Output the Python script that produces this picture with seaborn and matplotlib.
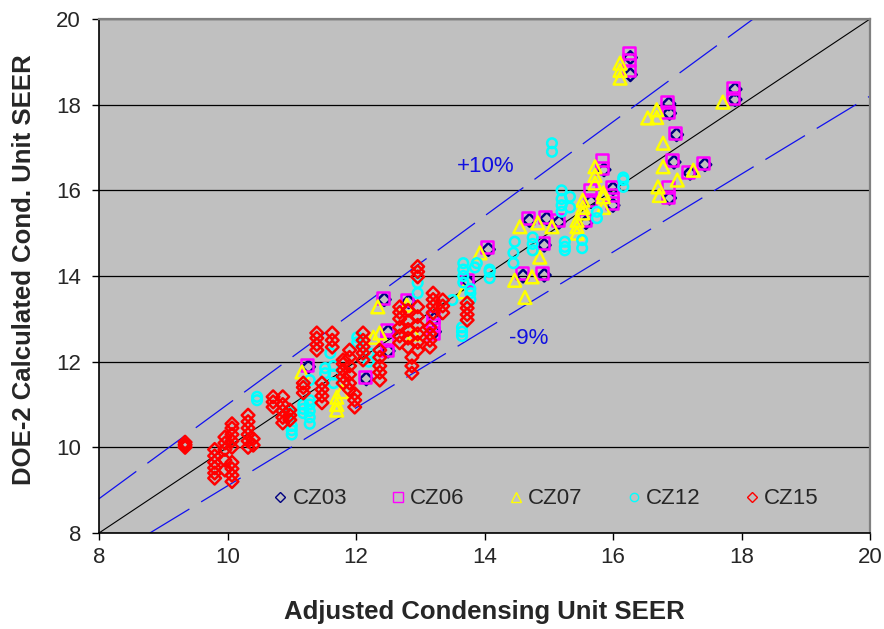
import matplotlib
matplotlib.use("Agg")
import matplotlib.pyplot as plt
from matplotlib.lines import Line2D
import pandas as pd
import seaborn as sns

# ---- data -------------------------------------------------------------
zones = ["CZ03", "CZ06", "CZ07", "CZ12", "CZ15"]

cz03_x = [11.26, 12.16, 12.44, 12.50, 12.50, 12.82, 13.22, 13.22, 13.75,
          14.06, 14.60, 14.70, 14.93, 14.93, 14.97, 15.16, 15.58, 15.66,
          15.86, 16.00, 16.00, 16.27, 16.27, 16.87, 16.88, 16.88, 16.95,
          16.99, 17.20, 17.43, 17.90, 17.90]
cz03_y = [11.88, 11.60, 13.45, 12.25, 12.70, 13.40, 12.70, 13.00, 13.86,
          14.62, 14.00, 15.30, 14.02, 14.72, 15.34, 15.26, 15.25, 15.74,
          16.48, 15.65, 16.04, 18.70, 19.10, 18.02, 17.80, 15.82, 16.66,
          17.30, 16.40, 16.60, 18.12, 18.36]

cz06_x = [11.24, 12.14, 12.42, 12.48, 12.48, 12.48, 12.79, 13.20, 13.20,
          13.20, 13.73, 14.04, 14.58, 14.68, 14.90, 14.91, 14.94, 15.14,
          15.56, 15.64, 15.64, 15.83, 15.83, 15.98, 15.98, 15.98, 16.25,
          16.25, 16.25, 16.84, 16.85, 16.86, 16.86, 16.92, 16.96, 17.17,
          17.40, 17.87, 17.87]
cz06_y = [11.92, 11.64, 13.49, 12.27, 12.50, 12.74, 13.44, 12.67, 12.85,
          13.04, 13.90, 14.68, 14.07, 15.35, 14.07, 14.77, 15.38, 15.30,
          15.30, 15.78, 16.00, 16.52, 16.70, 15.70, 15.90, 16.08, 18.80,
          19.05, 19.20, 18.06, 17.83, 15.85, 16.08, 16.70, 17.34, 16.43,
          16.64, 18.16, 18.39]

cz07_x = [11.16, 11.70, 11.70, 11.70, 11.78, 12.27, 12.34, 12.37, 12.79,
          12.90, 13.67, 13.93, 14.47, 14.55, 14.63, 14.74, 14.83, 14.86,
          15.05, 15.44, 15.44, 15.44, 15.53, 15.53, 15.53, 15.72, 15.72,
          15.72, 15.85, 15.85, 15.85, 16.11, 16.11, 16.11, 16.54, 16.68,
          16.68, 16.70, 16.72, 16.78, 16.78, 17.00, 17.25, 17.71]
cz07_y = [11.76, 10.87, 11.00, 11.17, 11.30, 12.57, 13.28, 12.67, 13.32,
          12.65, 13.63, 14.54, 13.90, 15.15, 13.50, 13.98, 15.24, 14.44,
          15.15, 15.00, 15.15, 15.30, 15.47, 15.60, 15.77, 16.17, 16.35,
          16.55, 15.60, 15.85, 15.94, 18.62, 18.80, 18.97, 17.69, 17.70,
          17.88, 16.08, 15.88, 16.55, 17.10, 16.24, 16.47, 18.06]

cz12_x = [10.46, 10.46, 10.97, 11.00, 11.00, 11.00, 11.18, 11.18, 11.18,
          11.28, 11.28, 11.28, 11.28, 11.28, 11.28, 11.52, 11.52, 11.60,
          11.65, 11.65, 11.65, 12.02, 12.02, 12.20, 12.20, 12.96, 12.96,
          13.50, 13.65, 13.65, 13.65, 13.67, 13.67, 13.67, 13.67, 13.78,
          13.78, 13.78, 13.85, 13.88, 14.08, 14.08, 14.08, 14.45, 14.45,
          14.47, 14.75, 14.75, 14.75, 15.05, 15.05, 15.20, 15.20, 15.20,
          15.20, 15.33, 15.33, 15.25, 15.25, 15.25, 15.52, 15.52, 15.75,
          15.75, 16.16, 16.16, 16.16]
cz12_y = [11.10, 11.18, 10.80, 10.30, 10.40, 10.50, 10.80, 10.90, 11.00,
          10.55, 10.70, 10.85, 11.00, 11.10, 11.57, 11.73, 11.85, 12.20,
          11.50, 11.70, 11.90, 12.45, 12.57, 12.00, 12.20, 13.60, 13.84,
          13.44, 12.60, 12.70, 12.80, 13.85, 14.00, 14.15, 14.30, 13.45,
          13.60, 13.70, 14.20, 14.30, 13.95, 14.10, 14.15, 14.30, 14.54,
          14.80, 14.60, 14.75, 14.90, 16.90, 17.10, 15.50, 15.65, 15.80,
          16.00, 15.60, 15.85, 14.60, 14.68, 14.80, 14.65, 14.84, 15.35,
          15.50, 16.08, 16.24, 16.30]

cz15_x = [9.34, 9.34, 9.34,
          9.80, 9.80, 9.80, 9.80, 9.80, 9.80,
          9.96, 9.96, 9.96, 9.96, 9.96,
          10.07, 10.07, 10.07, 10.07, 10.07, 10.07, 10.07, 10.07, 10.07,
          10.32, 10.32, 10.32, 10.32, 10.32, 10.32,
          10.40, 10.40,
          10.71, 10.71, 10.71,
          10.86, 10.86, 10.86, 10.86, 10.86,
          10.97, 10.97, 10.97,
          11.18, 11.18, 11.18,
          11.39, 11.39, 11.39, 11.39,
          11.47, 11.47, 11.47, 11.47,
          11.63, 11.63, 11.63,
          11.80, 11.80, 11.80, 11.80, 11.80,
          11.90, 11.90, 11.90, 11.90, 11.90, 11.90,
          11.98, 11.98, 11.98,
          12.11, 12.11, 12.11, 12.11, 12.11,
          12.37, 12.37, 12.37, 12.37, 12.37,
          12.68, 12.68, 12.68, 12.68, 12.68, 12.68,
          12.81, 12.81, 12.81, 12.81, 12.81,
          12.87, 12.87, 12.87,
          12.96, 12.96, 12.96, 12.96, 12.96, 12.96, 12.96, 12.96, 12.96,
          13.15, 13.15, 13.15, 13.15,
          13.20, 13.20, 13.20, 13.20,
          13.35, 13.35, 13.35,
          13.73, 13.73, 13.73, 13.73]
cz15_y = [10.00, 10.06, 10.12,
          9.28, 9.40, 9.52, 9.65, 9.80, 9.95,
          9.47, 9.70, 9.95, 10.10, 10.24,
          9.20, 9.35, 9.50, 9.65, 10.00, 10.15, 10.30, 10.45, 10.55,
          10.00, 10.15, 10.30, 10.45, 10.60, 10.75,
          10.05, 10.20,
          10.94, 11.06, 11.18,
          10.57, 10.70, 10.85, 11.00, 11.18,
          10.64, 10.75, 10.87,
          11.27, 11.40, 11.50,
          12.27, 12.40, 12.55, 12.67,
          11.04, 11.20, 11.35, 11.50,
          12.34, 12.50, 12.67,
          11.50, 11.65, 11.80, 11.95, 12.04,
          11.34, 11.50, 11.70, 11.90, 12.10, 12.27,
          10.94, 11.10, 11.25,
          12.04, 12.20, 12.35, 12.50, 12.67,
          11.57, 11.75, 11.90, 12.10, 12.27,
          12.44, 12.60, 12.80, 13.00, 13.15, 13.28,
          12.34, 12.55, 12.75, 12.95, 13.20,
          11.73, 11.90, 12.10,
          12.27, 12.45, 12.65, 12.85, 13.05, 13.28, 13.98, 14.10, 14.22,
          12.34, 12.50, 12.65, 12.80,
          13.14, 13.30, 13.45, 13.60,
          13.14, 13.30, 13.44,
          12.97, 13.10, 13.25, 13.37]

axis_ticks = [8, 10, 12, 14, 16, 18, 20]
upper_pct = 0.10   # +10% band
lower_pct = -0.09  # -9% band

# ---- styling ----------------------------------------------------------
colors = {"CZ03": "#000080", "CZ06": "#FF00FF", "CZ07": "#FFFF00",
          "CZ12": "#00FFFF", "CZ15": "#FF0000"}
markers = {"CZ03": "D", "CZ06": "s", "CZ07": "^", "CZ12": "o", "CZ15": "D"}
sizes = {"CZ03": 42, "CZ06": 72, "CZ07": 85, "CZ12": 48, "CZ15": 42}

sns.set_theme(style="white")
plt.rcParams["font.family"] = ["Liberation Sans", "DejaVu Sans"]

series = {"CZ03": (cz03_x, cz03_y), "CZ06": (cz06_x, cz06_y),
          "CZ07": (cz07_x, cz07_y), "CZ12": (cz12_x, cz12_y),
          "CZ15": (cz15_x, cz15_y)}
df = pd.concat([pd.DataFrame({"adj": xs, "calc": ys, "zone": z})
                for z, (xs, ys) in series.items()], ignore_index=True)

fig = plt.figure(figsize=(8.84, 6.29), dpi=100)
ax = fig.add_axes([99 / 884, 1 - 533 / 629, 771 / 884, 514 / 629])
ax.set_facecolor("#C0C0C0")

# 1:1 line and percentage bands
lo, hi = axis_ticks[0], axis_ticks[-1]
ax.plot([lo, hi], [lo, hi], color="black", lw=0.8, zorder=1)
up_x = [lo, hi / (1 + upper_pct)]
ax.plot(up_x, [v * (1 + upper_pct) for v in up_x], color="#1010F0",
        lw=0.9, dashes=(37, 11), zorder=1)
dn_x = [lo / (1 + lower_pct), hi]
ax.plot(dn_x, [v * (1 + lower_pct) for v in dn_x], color="#1010F0",
        lw=0.9, dashes=(37, 11), zorder=1)

sns.scatterplot(data=df, x="adj", y="calc", hue="zone", style="zone",
                size="zone", palette=colors, markers=markers, sizes=sizes,
                hue_order=zones, style_order=zones, size_order=zones,
                linewidth=1.8, legend=False, ax=ax, zorder=3)
pts = ax.collections[-1]
pts.set_edgecolors(pts.get_facecolors())
pts.set_facecolors("none")
pts.set_linewidths(1.8)

ax.text(14.02, 16.55, "+10%", color="#1010E0", fontsize=16,
        ha="center", va="center")
ax.text(14.69, 12.55, "-9%", color="#1010E0", fontsize=16,
        ha="center", va="center")

ax.set_xlim(lo, hi)
ax.set_ylim(lo, hi)
ax.set_xticks(axis_ticks)
ax.set_yticks(axis_ticks)
ax.yaxis.grid(True, color="black", lw=0.9)
ax.xaxis.grid(False)
ax.set_axisbelow(True)
for side in ("left", "bottom"):
    ax.spines[side].set_color("black")
    ax.spines[side].set_linewidth(1.2)
for side in ("top", "right"):
    ax.spines[side].set_color("#808080")
    ax.spines[side].set_linewidth(1.6)
ax.tick_params(axis="both", direction="out", length=5, width=1,
               color="black", bottom=True, left=True)
ax.tick_params(axis="x", labelsize=16, pad=5)
ax.tick_params(axis="y", labelsize=16, pad=8)

ax.set_xlabel("Adjusted Condensing Unit SEER", fontsize=18.5,
              fontweight="bold")
ax.set_ylabel("DOE-2 Calculated Cond. Unit SEER", fontsize=18.5,
              fontweight="bold")
ax.xaxis.label.set_va("center")
ax.yaxis.label.set_va("center")
ax.xaxis.set_label_coords(0.5, (533 - 612) / 514)
ax.yaxis.set_label_coords((24 - 99) / 771, (533 - 270) / 514)

handles = [Line2D([], [], linestyle="none", marker=markers[z],
                  markerfacecolor="none", markeredgecolor=colors[z],
                  markeredgewidth=1.0,
                  markersize={"D": 5.0, "s": 6.5, "^": 7.5, "o": 6.0}[markers[z]])
           for z in zones]
ax.legend(handles, zones, loc="center", ncol=5, frameon=False,
          fontsize=16, bbox_to_anchor=((545 - 99) / 771, (533 - 499) / 514),
          handlelength=0.8, handletextpad=0.15, columnspacing=1.9)

fig.savefig("out.png", dpi=100)
